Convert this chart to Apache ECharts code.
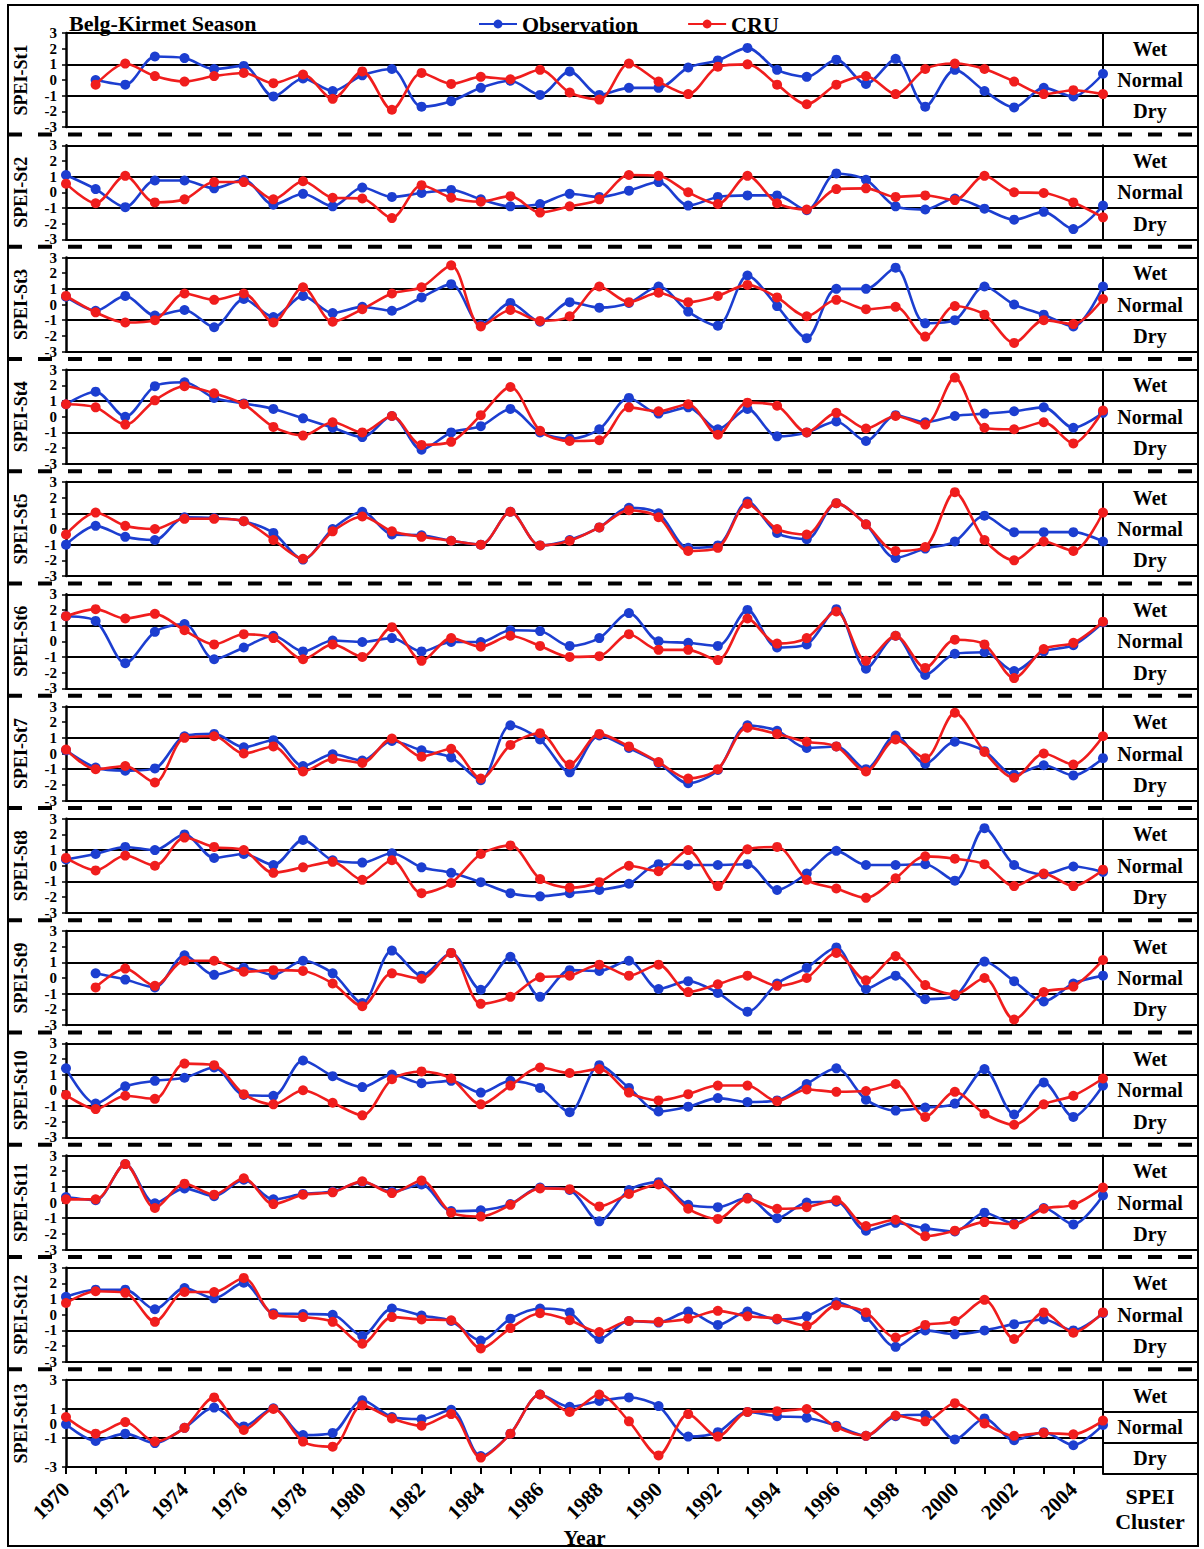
<!DOCTYPE html>
<html><head><meta charset="utf-8">
<script src="https://cdn.jsdelivr.net/npm/echarts@6/dist/echarts.min.js"></script>
<style>html,body{margin:0;padding:0;background:#fff}#c{width:1204px;height:1549px}</style>
</head><body><div id="c"></div>
<script>
const years = [1970,1971,1972,1973,1974,1975,1976,1977,1978,1979,1980,1981,1982,1983,1984,1985,1986,1987,1988,1989,1990,1991,1992,1993,1994,1995,1996,1997,1998,1999,2000,2001,2002,2003,2004,2005];
const stations = ['SPEI-St1','SPEI-St2','SPEI-St3','SPEI-St4','SPEI-St5','SPEI-St6','SPEI-St7','SPEI-St8','SPEI-St9','SPEI-St10','SPEI-St11','SPEI-St12','SPEI-St13'];
const clusterLabels = ['Dry','Normal','Wet'];
const yTicks = [-3,-2,-1,0,1,2,3];

const obs1 = [null,0.0,-0.3,1.5,1.4,0.7,0.9,-1.05,0.1,-0.7,0.3,0.7,-1.7,-1.35,-0.5,-0.05,-0.95,0.55,-0.95,-0.5,-0.5,0.8,1.25,2.05,0.65,0.2,1.3,-0.25,1.35,-1.7,0.65,-0.7,-1.75,-0.5,-1.05,0.4];
const cru1 = [null,-0.3,1.05,0.25,-0.1,0.25,0.45,-0.2,0.35,-1.2,0.55,-1.9,0.45,-0.25,0.2,0.05,0.65,-0.8,-1.25,1.05,-0.1,-0.9,0.85,1.0,-0.3,-1.55,-0.3,0.25,-0.9,0.7,1.05,0.7,-0.1,-0.9,-0.65,-0.9];
const obs2 = [1.1,0.2,-0.95,0.75,0.75,0.25,0.8,-0.8,-0.1,-0.9,0.3,-0.3,-0.05,0.15,-0.45,-0.9,-0.75,-0.1,-0.3,0.1,0.65,-0.85,-0.3,-0.2,-0.2,-1.15,1.2,0.8,-0.9,-1.1,-0.4,-1.05,-1.75,-1.25,-2.35,-0.85];
const cru2 = [0.55,-0.7,1.05,-0.65,-0.45,0.65,0.65,-0.45,0.7,-0.35,-0.4,-1.65,0.45,-0.35,-0.6,-0.25,-1.3,-0.9,-0.45,1.1,1.05,0.0,-0.75,1.05,-0.7,-1.1,0.2,0.25,-0.3,-0.2,-0.5,1.05,0.0,-0.05,-0.65,-1.6];
const obs3 = [0.5,-0.4,0.55,-0.7,-0.35,-1.45,0.35,-0.8,0.55,-0.55,-0.15,-0.4,0.45,1.3,-1.3,0.1,-1.1,0.15,-0.2,0.1,1.15,-0.45,-1.35,1.85,-0.1,-2.15,1.0,1.0,2.35,-1.2,-1.0,1.15,0.0,-0.65,-1.4,1.15];
const cru3 = [0.55,-0.5,-1.15,-1.0,0.7,0.3,0.7,-1.15,1.1,-1.1,-0.3,0.7,1.1,2.5,-1.4,-0.35,-1.05,-0.75,1.15,0.15,0.75,0.15,0.55,1.25,0.45,-0.75,0.3,-0.3,-0.15,-2.05,-0.1,-0.65,-2.45,-1.0,-1.25,0.35];
const obs4 = [0.8,1.6,0.0,1.95,2.2,1.2,0.85,0.5,-0.1,-0.7,-1.3,0.05,-2.1,-1.0,-0.6,0.5,-1.0,-1.4,-0.8,1.2,0.2,0.6,-0.8,0.5,-1.25,-1.0,-0.3,-1.55,0.1,-0.35,0.05,0.2,0.35,0.6,-0.7,0.25];
const cru4 = [0.8,0.6,-0.5,1.05,1.95,1.5,0.8,-0.65,-1.2,-0.35,-1.0,0.05,-1.8,-1.6,0.1,1.9,-0.9,-1.55,-1.5,0.6,0.35,0.8,-1.15,0.9,0.7,-1.0,0.25,-0.75,0.05,-0.5,2.5,-0.7,-0.8,-0.35,-1.7,0.4];
const obs5 = [-1.0,0.2,-0.5,-0.7,0.75,0.7,0.5,-0.25,-1.95,0.0,1.1,-0.35,-0.4,-0.75,-1.0,1.1,-1.05,-0.7,0.1,1.35,1.0,-1.2,-1.05,1.75,-0.25,-0.65,1.65,0.3,-1.85,-1.25,-0.8,0.85,-0.2,-0.2,-0.2,-0.8];
const cru5 = [-0.35,1.05,0.2,0.0,0.65,0.65,0.5,-0.7,-1.9,-0.15,0.8,-0.15,-0.5,-0.75,-1.0,1.1,-1.05,-0.75,0.1,1.2,0.75,-1.4,-1.2,1.6,0.0,-0.35,1.65,0.3,-1.4,-1.15,2.35,-0.7,-2.0,-0.8,-1.4,1.05];
const obs6 = [1.6,1.3,-1.4,0.6,1.1,-1.15,-0.4,0.35,-0.65,0.05,-0.05,0.2,-0.65,-0.05,-0.05,0.7,0.65,-0.3,0.2,1.8,0.0,-0.1,-0.3,2.0,-0.4,-0.2,2.05,-1.75,0.35,-2.15,-0.8,-0.7,-1.9,-0.65,-0.25,1.2];
const cru6 = [1.6,2.05,1.45,1.75,0.7,-0.2,0.45,0.2,-1.15,-0.2,-1.0,0.9,-1.25,0.2,-0.35,0.35,-0.3,-1.0,-0.95,0.45,-0.55,-0.55,-1.2,1.45,-0.15,0.2,1.9,-1.25,0.35,-1.7,0.1,-0.2,-2.35,-0.5,-0.1,1.25];
const obs7 = [0.2,-0.9,-1.1,-0.95,1.1,1.25,0.4,0.85,-0.8,-0.05,-0.45,0.8,0.2,-0.25,-1.7,1.8,0.9,-1.2,1.15,0.35,-0.6,-1.9,-1.05,1.8,1.45,0.35,0.45,-1.0,1.15,-0.65,0.75,0.15,-1.35,-0.75,-1.4,-0.3];
const cru7 = [0.25,-1.0,-0.8,-1.85,1.0,1.1,0.0,0.45,-1.15,-0.35,-0.6,0.95,-0.2,0.3,-1.6,0.55,1.3,-0.7,1.25,0.45,-0.55,-1.6,-1.0,1.65,1.25,0.75,0.45,-1.15,0.9,-0.3,2.6,0.1,-1.55,0.0,-0.7,1.1];
const obs8 = [0.4,0.75,1.2,1.0,2.0,0.5,0.75,0.05,1.65,0.35,0.2,0.8,-0.1,-0.45,-1.05,-1.75,-1.95,-1.75,-1.55,-1.15,0.1,0.05,0.05,0.1,-1.55,-0.5,0.95,0.05,0.05,0.1,-0.95,2.4,0.05,-0.55,-0.05,-0.4];
const cru8 = [0.5,-0.3,0.65,0.0,1.8,1.2,1.0,-0.45,-0.1,0.25,-0.9,0.35,-1.75,-1.1,0.75,1.3,-0.85,-1.4,-1.05,0.0,-0.35,1.0,-1.3,1.05,1.2,-0.9,-1.45,-2.05,-0.8,0.6,0.45,0.1,-1.3,-0.5,-1.3,-0.25];
const obs9 = [null,0.3,-0.1,-0.6,1.45,0.2,0.65,0.2,1.1,0.3,-1.6,1.75,0.15,1.6,-0.75,1.35,-1.2,0.5,0.45,1.1,-0.7,-0.2,-0.95,-2.15,-0.35,0.65,1.95,-0.7,0.15,-1.35,-1.15,1.05,-0.2,-1.5,-0.35,0.15];
const cru9 = [null,-0.6,0.6,-0.5,1.1,1.1,0.4,0.5,0.45,-0.35,-1.8,0.3,-0.05,1.6,-1.65,-1.2,0.05,0.15,0.85,0.15,0.85,-0.9,-0.4,0.15,-0.5,0.0,1.6,-0.15,1.4,-0.45,-1.05,0.0,-2.65,-0.9,-0.55,1.15];
const obs10 = [1.4,-0.85,0.25,0.6,0.8,1.45,-0.3,-0.35,1.9,0.9,0.2,1.0,0.45,0.6,-0.15,0.6,0.15,-1.4,1.6,0.15,-1.35,-1.05,-0.5,-0.75,-0.65,0.4,1.4,-0.6,-1.3,-1.1,-0.85,1.35,-1.55,0.5,-1.7,0.3];
const cru10 = [-0.3,-1.2,-0.35,-0.55,1.7,1.6,-0.25,-0.9,0.0,-0.8,-1.6,0.7,1.2,0.75,-0.9,0.3,1.45,1.1,1.35,-0.15,-0.65,-0.25,0.3,0.3,-0.7,0.05,-0.1,-0.05,0.4,-1.7,-0.1,-1.5,-2.2,-0.9,-0.35,0.75];
const obs11 = [0.35,0.15,2.45,-0.05,0.9,0.4,1.45,0.2,0.55,0.7,1.3,0.7,1.15,-0.55,-0.5,-0.1,0.95,0.8,-1.2,0.8,1.3,-0.15,-0.3,0.3,-1.0,0.0,0.05,-1.8,-1.3,-1.65,-1.85,-0.65,-1.35,-0.35,-1.4,0.45];
const cru11 = [0.2,0.2,2.45,-0.35,1.2,0.5,1.55,-0.1,0.5,0.65,1.35,0.6,1.4,-0.65,-0.9,-0.15,0.9,0.85,-0.25,0.55,1.15,-0.4,-1.05,0.25,-0.4,-0.3,0.15,-1.5,-1.1,-2.15,-1.8,-1.25,-1.4,-0.4,-0.15,0.95];
const obs12 = [1.15,1.6,1.6,0.35,1.7,1.05,2.05,0.1,0.05,0.0,-1.35,0.4,-0.05,-0.4,-1.65,-0.25,0.4,0.15,-1.55,-0.4,-0.5,0.2,-0.65,0.2,-0.3,-0.1,0.8,-0.15,-2.05,-1.0,-1.25,-1.0,-0.6,-0.3,-1.0,0.1];
const cru12 = [0.75,1.5,1.4,-0.45,1.45,1.45,2.35,0.0,-0.15,-0.45,-1.85,-0.15,-0.3,-0.35,-2.15,-0.85,0.1,-0.35,-1.1,-0.4,-0.45,-0.25,0.25,-0.1,-0.25,-0.7,0.6,0.15,-1.45,-0.65,-0.4,0.95,-1.55,0.15,-1.15,0.15];
const obs13 = [-0.05,-1.2,-0.7,-1.35,-0.3,1.1,-0.2,1.05,-0.8,-0.65,1.6,0.45,0.3,0.95,-2.25,-0.7,2.0,1.15,1.55,1.8,1.2,-0.9,-0.6,0.8,0.5,0.4,-0.15,-0.85,0.5,0.6,-1.1,0.35,-1.15,-0.6,-1.5,-0.1];
const cru13 = [0.45,-0.7,0.1,-1.25,-0.3,1.8,-0.45,1.0,-1.25,-1.6,1.25,0.35,-0.15,0.65,-2.35,-0.7,2.0,0.8,2.0,0.15,-2.2,0.65,-0.9,0.8,0.85,1.0,-0.25,-0.85,0.55,0.15,1.4,0.0,-0.85,-0.65,-0.75,0.2];

const obsAll = [obs1,obs2,obs3,obs4,obs5,obs6,obs7,obs8,obs9,obs10,obs11,obs12,obs13];
const cruAll = [cru1,cru2,cru3,cru4,cru5,cru6,cru7,cru8,cru9,cru10,cru11,cru12,cru13];

// layout
const FONT = 'Liberation Serif';
const LEFT = 66, PW = 1037, SW = 95, TOP0 = 33, STEP = 112.25, PH = 94;
const BLUE = '#1c3ed0', RED = '#f01d1d';

const grids = [], xAxes = [], yAxes = [], series = [], graphics = [];
const n = stations.length;
for (let i = 0; i < n; i++) {
  const top = TOP0 + i * STEP;
  const last = i === n - 1;
  grids.push({left: LEFT, top: top, width: PW, height: PH});
  grids.push({left: LEFT + PW, top: top, width: SW, height: PH});
  xAxes.push({
    gridIndex: 2*i, type: 'value', min: years[0], max: years[years.length-1], interval: 1,
    axisLine: {show: true, onZero: false, lineStyle: {color: '#000', width: 2}},
    axisTick: {show: last, length: 7, lineStyle: {color: '#000', width: 2}},
    axisLabel: {show: last, rotate: 45, margin: 19, color: '#000', fontFamily: FONT, fontWeight: 'bold', fontSize: 21,
      formatter: v => ((v - years[0]) % 2 === 0 && v < years[years.length-1]) ? String(v) : ''},
    splitLine: {show: false},
    name: last ? 'Year' : '', nameLocation: 'middle', nameGap: 60,
    nameTextStyle: {color: '#000', fontFamily: FONT, fontWeight: 'bold', fontSize: 21}
  });
  xAxes.push({gridIndex: 2*i+1, type: 'value', min: 0, max: 1, show: false});
  yAxes.push({
    gridIndex: 2*i, type: 'value', min: yTicks[0], max: yTicks[yTicks.length-1], interval: 1,
    axisLine: {show: true, lineStyle: {color: '#000', width: 2.5}},
    axisTick: {show: true, length: 4, lineStyle: {color: '#000', width: 1.5}},
    axisLabel: {margin: 9, color: '#000', fontFamily: FONT, fontWeight: 'bold', fontSize: 15, lineHeight: 14,
      showMinLabel: true, showMaxLabel: true, hideOverlap: false},
    splitLine: {show: false},
    name: stations[i], nameLocation: 'middle', nameRotate: 90, nameGap: 36,
    nameTextStyle: {color: '#000', fontFamily: FONT, fontWeight: 'bold', fontSize: 18}
  });
  yAxes.push({
    gridIndex: 2*i, type: 'value', min: yTicks[0], max: yTicks[yTicks.length-1], interval: 2,
    axisLine: {show: false}, axisTick: {show: false}, axisLabel: {show: false},
    splitLine: {show: true, lineStyle: {color: '#000', width: 1.8}}
  });
  yAxes.push({
    gridIndex: 2*i+1, type: 'category', data: clusterLabels, boundaryGap: true,
    axisLine: {show: true, lineStyle: {color: '#000', width: 2}},
    axisTick: {show: false},
    axisLabel: {inside: true, align: 'center', margin: 47, color: '#000', fontFamily: FONT, fontWeight: 'bold', fontSize: 20, interval: 0},
    splitLine: {show: true, interval: 0, lineStyle: {color: '#000', width: 1.8}}
  });
  const mk = (arr) => years.map((y, k) => [y, arr[k] === null ? '-' : arr[k]]);
  series.push({name: 'Observation', type: 'line', xAxisIndex: 2*i, yAxisIndex: 3*i, data: mk(obsAll[i]),
    smooth: 0.3, symbol: 'circle', symbolSize: 10, z: 3,
    lineStyle: {color: BLUE, width: 2.6}, itemStyle: {color: BLUE}});
  series.push({name: 'CRU', type: 'line', xAxisIndex: 2*i, yAxisIndex: 3*i, data: mk(cruAll[i]),
    smooth: 0.3, symbol: 'circle', symbolSize: 10, z: 4,
    lineStyle: {color: RED, width: 2.6}, itemStyle: {color: RED}});
  if (!last) {
    const yd = top + PH + 7.5;
    graphics.push({type: 'line', shape: {x1: 8, y1: yd, x2: 1198, y2: yd},
      style: {stroke: '#000', lineWidth: 4, lineDash: [14, 16]}, z: 10});
  }
}
graphics.push({type: 'rect', shape: {x: 8, y: 5, width: 1190, height: 1541},
  style: {fill: 'none', stroke: '#000', lineWidth: 2}, z: 10});
graphics.push({type: 'text', left: 1150 - 38, top: 1484,
  style: {text: 'SPEI\nCluster', font: 'bold 22px "Liberation Serif"', fill: '#000', textAlign: 'center', lineHeight: 25, width: 76}, z: 10});

const chart = echarts.init(document.getElementById('c'), null, {renderer: 'svg'});
chart.setOption({
  animation: false,
  backgroundColor: '#fff',
  title: {text: 'Belg-Kirmet Season', left: 64, top: 7,
    textStyle: {color: '#000', fontFamily: FONT, fontWeight: 'bold', fontSize: 22}},
  legend: {data: ['Observation', 'CRU'], left: 473, top: 8, itemWidth: 38, itemHeight: 11, itemGap: 49,
    textStyle: {color: '#000', fontFamily: FONT, fontWeight: 'bold', fontSize: 22}},
  grid: grids, xAxis: xAxes, yAxis: yAxes, series: series, graphic: graphics
});
</script></body></html>
